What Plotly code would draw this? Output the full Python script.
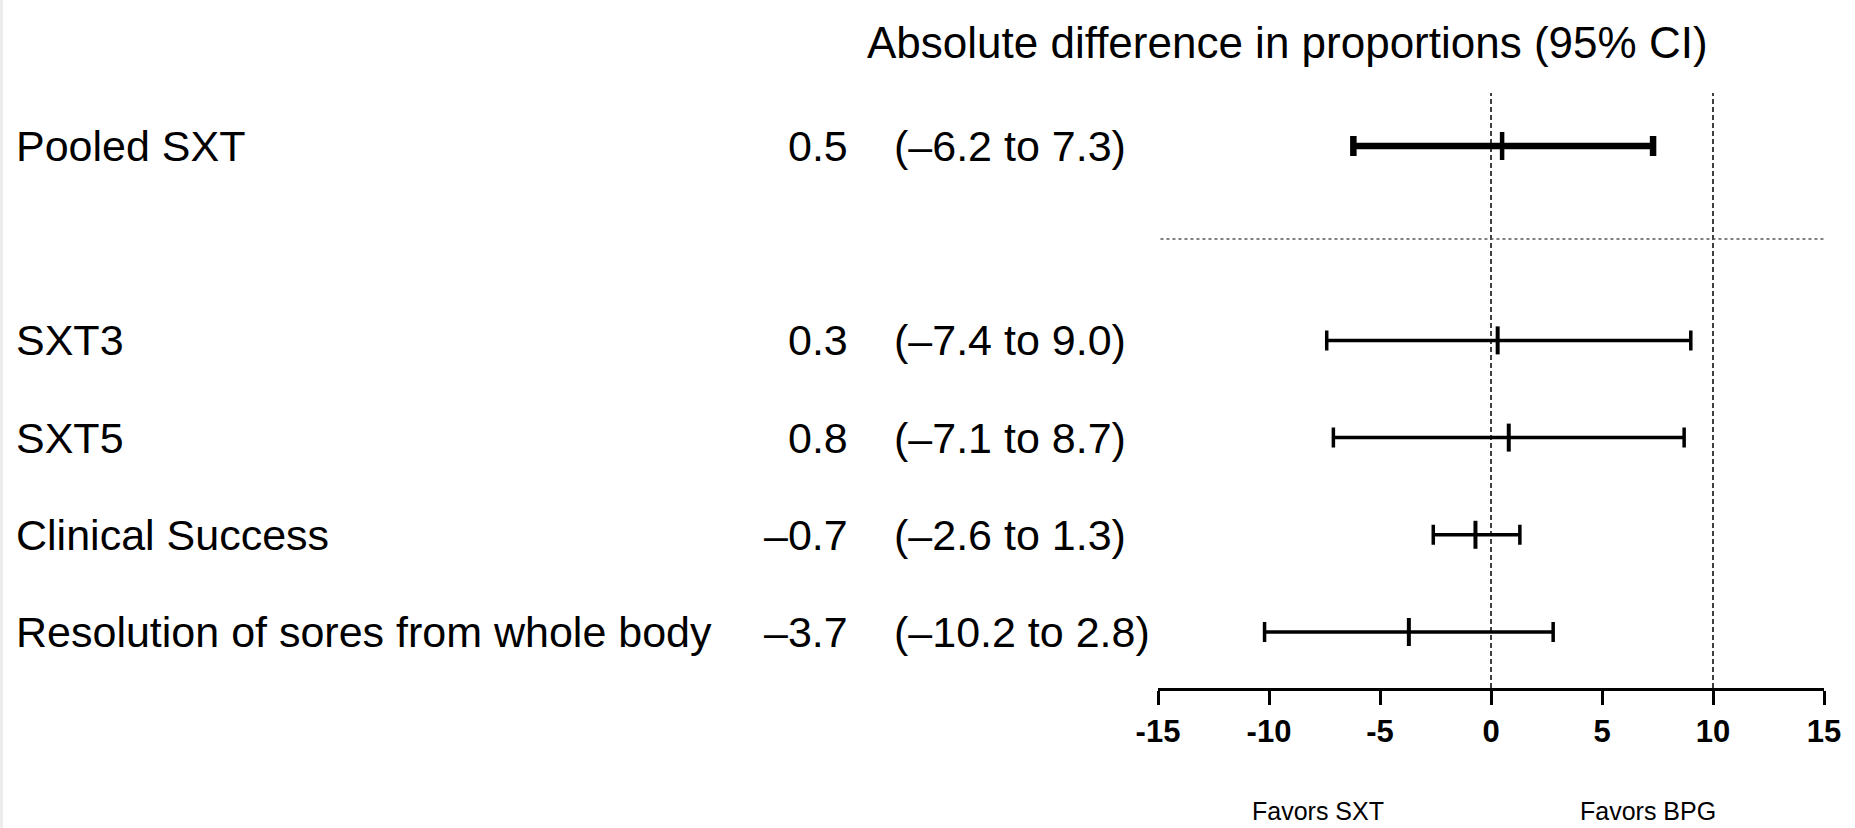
import plotly.graph_objects as go

# ---- data ----
labels = ["Pooled SXT", "SXT3", "SXT5", "Clinical Success", "Resolution of sores from whole body"]
rows = [0, 2, 3, 4, 5]
estimates = [0.5, 0.3, 0.8, -0.7, -3.7]
lower = [-6.2, -7.4, -7.1, -2.6, -10.2]
upper = [7.3, 9.0, 8.7, 1.3, 2.8]
est_text = ["0.5", "0.3", "0.8", "\u20130.7", "\u20133.7"]
ci_text = ["(\u20136.2 to 7.3)", "(\u20137.4 to 9.0)", "(\u20137.1 to 8.7)",
           "(\u20132.6 to 1.3)", "(\u201310.2 to 2.8)"]
tick_vals = [-15, -10, -5, 0, 5, 10, 15]
tick_text = ["-15", "-10", "-5", "0", "5", "10", "15"]
ref_lines = [0, 10]
title_text = "Absolute difference in proportions (95% CI)"
favors = ["Favors SXT", "Favors BPG"]

W, H = 1855, 828
FONT = "Liberation Sans, Arial, Helvetica, sans-serif"

fig = go.Figure()

def add_rows(idx, thick, mw):
    fig.add_trace(go.Scatter(
        x=[estimates[i] for i in idx],
        y=[rows[i] for i in idx],
        mode="markers",
        marker=dict(symbol="line-ns-open", size=20, color="black",
                    line=dict(color="black", width=mw)),
        error_x=dict(type="data", symmetric=False,
                     array=[upper[i] - estimates[i] for i in idx],
                     arrayminus=[estimates[i] - lower[i] for i in idx],
                     color="black", thickness=thick, width=10),
        showlegend=False, hoverinfo="skip",
    ))

add_rows([0], 6.5, 4.5)
add_rows([1, 2, 3, 4], 3.5, 4)

ann = []
def px(x):
    return x / W

for i, lab in enumerate(labels):
    ann.append(dict(x=px(15), y=rows[i], xref="paper", yref="y", text=lab,
                    showarrow=False, xanchor="left", yanchor="middle", borderpad=0,
                    font=dict(family=FONT, size=43, color="black")))
    ann.append(dict(x=px(849), y=rows[i], xref="paper", yref="y", text=est_text[i],
                    showarrow=False, xanchor="right", yanchor="middle", borderpad=0,
                    font=dict(family=FONT, size=43, color="black")))
    ann.append(dict(x=px(893), y=rows[i], xref="paper", yref="y", text=ci_text[i],
                    showarrow=False, xanchor="left", yanchor="middle", borderpad=0,
                    font=dict(family=FONT, size=43, color="black")))

ann.append(dict(x=px(866), y=1 - 42 / H, xref="paper", yref="paper", text=title_text,
                showarrow=False, xanchor="left", yanchor="middle", borderpad=0,
                font=dict(family=FONT, size=44, color="black")))
ann.append(dict(x=px(1318), y=1 - 811 / H, xref="paper", yref="paper", text=favors[0],
                showarrow=False, xanchor="center", yanchor="middle", borderpad=0,
                font=dict(family=FONT, size=25, color="black")))
ann.append(dict(x=px(1648), y=1 - 811 / H, xref="paper", yref="paper", text=favors[1],
                showarrow=False, xanchor="center", yanchor="middle", borderpad=0,
                font=dict(family=FONT, size=25, color="black")))

shapes = []
for v in ref_lines:
    shapes.append(dict(type="line", xref="x", yref="y domain", x0=v, x1=v, y0=0, y1=1,
                       line=dict(color="black", width=1.5, dash="5px,3px")))
shapes.append(dict(type="line", xref="x", yref="y", x0=-15.16, x1=15.18, y0=0.957, y1=0.957,
                   line=dict(color="#555555", width=1.5, dash="dot")))
# light grey strip at the left edge
shapes.append(dict(type="rect", xref="paper", yref="paper", x0=0, x1=3 / W, y0=0, y1=1,
                   fillcolor="#ececec", line=dict(width=0), layer="below"))

fig.update_layout(
    template="none",
    width=W, height=H,
    margin=dict(l=0, r=0, t=0, b=0, pad=0, autoexpand=False),
    paper_bgcolor="white", plot_bgcolor="white",
    showlegend=False,
    font=dict(family=FONT, color="black"),
    annotations=ann, shapes=shapes,
    xaxis=dict(domain=[1158 / W, 1824 / W], range=[-15, 15], automargin=False,
               tickmode="array", tickvals=tick_vals, ticktext=tick_text,
               showline=True, linecolor="black", linewidth=3,
               ticks="outside", ticklen=14, tickwidth=3, tickcolor="black",
               showgrid=False, zeroline=False,
               tickfont=dict(family=FONT, size=31, color="black", weight="bold")),
    yaxis=dict(domain=[(H - 688) / H, (H - 93) / H], range=[5.576, -0.545],
               automargin=False, visible=False, showgrid=False, zeroline=False),
)

fig.write_html("out.html")
